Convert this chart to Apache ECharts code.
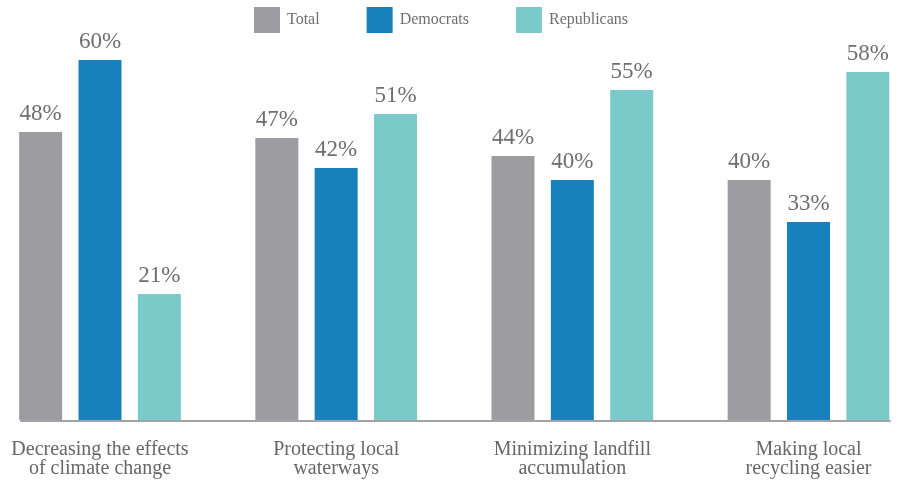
<!DOCTYPE html>
<html>
<head>
<meta charset="utf-8">
<script src="https://cdn.jsdelivr.net/npm/echarts@6/dist/echarts.min.js"></script>
<style>html,body{margin:0;padding:0;background:#fff}#c{width:901px;height:480px}</style>
</head>
<body>
<div id="c"></div>
<script>
var categories = ['Decreasing the effects\nof climate change', 'Protecting local\nwaterways', 'Minimizing landfill\naccumulation', 'Making local\nrecycling easier'];
var seriesNames = ['Total', 'Democrats', 'Republicans'];
var totalValues = [48, 47, 44, 40];
var democratValues = [60, 42, 40, 33];
var republicanValues = [21, 51, 55, 58];

var colors = ['#9d9ca1', '#1880bb', '#7bcaca'];
var FONT = '"Liberation Serif", "DejaVu Serif", serif';

function mkSeries(name, data, color) {
  return {
    name: name, type: 'bar', data: data, barWidth: 43, barGap: '38%', clip: false,
    itemStyle: { color: color },
    label: { show: true, position: 'top', distance: 7, formatter: '{c}%', color: '#6e6e6e', fontFamily: FONT, fontSize: 23 },
    xAxisIndex: 0, yAxisIndex: 0
  };
}

var chart = echarts.init(document.getElementById('c'), null, { renderer: 'canvas' });
chart.setOption({
  animation: false,
  color: colors,
  legend: {
    data: seriesNames, left: 254, top: 7, padding: 0, itemWidth: 26, itemHeight: 26, itemGap: 47,
    selectedMode: false, icon: 'rect',
    textStyle: { fontFamily: FONT, fontSize: 16, color: '#6e6e6e', padding: [0, 0, 0, 2] }
  },
  grid: [
    { left: 100, right: 92.5, top: 0, bottom: 60 },
    { left: 21, right: 11, top: 0, bottom: 59 }
  ],
  xAxis: [
    { type: 'category', gridIndex: 0, data: categories, boundaryGap: false,
      axisLine: { show: false }, axisTick: { show: false },
      axisLabel: { interval: 0, margin: 20, fontFamily: FONT, fontSize: 20, lineHeight: 19, color: '#676767' } },
    { type: 'value', gridIndex: 1, min: 0, max: 1,
      axisLine: { show: true, lineStyle: { color: '#a3a3a6', width: 2 } },
      axisTick: { show: false }, axisLabel: { show: false }, splitLine: { show: false } }
  ],
  yAxis: [
    { type: 'value', gridIndex: 0, min: 0, max: 70, show: false },
    { type: 'value', gridIndex: 1, min: 0, max: 1, show: false }
  ],
  series: [
    mkSeries(seriesNames[0], totalValues, colors[0]),
    mkSeries(seriesNames[1], democratValues, colors[1]),
    mkSeries(seriesNames[2], republicanValues, colors[2])
  ]
});
</script>
</body>
</html>
